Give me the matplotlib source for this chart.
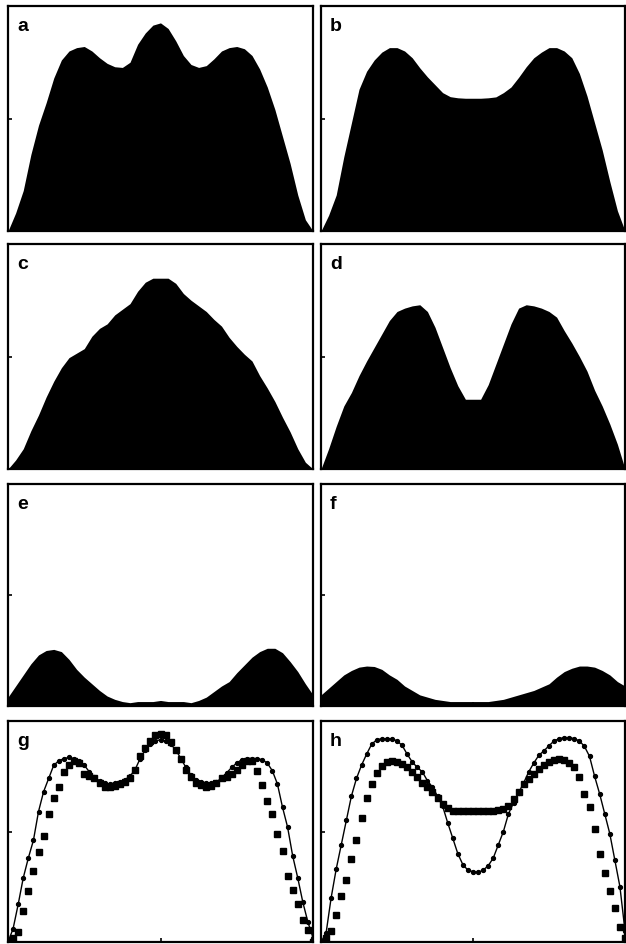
import numpy as np
import matplotlib
matplotlib.use("Agg")
import matplotlib.pyplot as plt

OUT_PATH = "out.png"

# sample positions across each panel (fraction of panel width)
X41 = np.linspace(0, 1, 41)
X61 = np.linspace(0, 1, 61)

# filled profiles (fraction of panel height)
PROFILE_A = [0.00, 0.08, 0.18, 0.34, 0.47, 0.57, 0.68, 0.76, 0.80, 0.815,
             0.82, 0.80, 0.77, 0.745, 0.73, 0.727, 0.75, 0.83, 0.88, 0.915,
             0.925, 0.90, 0.845, 0.78, 0.74, 0.727, 0.735, 0.765, 0.80, 0.815,
             0.82, 0.81, 0.78, 0.72, 0.64, 0.54, 0.42, 0.30, 0.16, 0.05, 0.00]
PROFILE_B = [0.00, 0.07, 0.16, 0.33, 0.48, 0.63, 0.71, 0.76, 0.795, 0.815,
             0.815, 0.80, 0.77, 0.725, 0.685, 0.65, 0.615, 0.597, 0.592, 0.59,
             0.59, 0.59, 0.592, 0.596, 0.615, 0.64, 0.683, 0.73, 0.77, 0.795,
             0.815, 0.815, 0.80, 0.77, 0.70, 0.60, 0.48, 0.36, 0.22, 0.09, 0.00]
PROFILE_C = [0.00, 0.04, 0.09, 0.17, 0.24, 0.32, 0.39, 0.45, 0.495, 0.515,
             0.535, 0.59, 0.625, 0.645, 0.685, 0.71, 0.735, 0.79, 0.83, 0.848,
             0.848, 0.848, 0.825, 0.78, 0.75, 0.725, 0.70, 0.665, 0.635, 0.585,
             0.545, 0.51, 0.48, 0.415, 0.36, 0.30, 0.23, 0.165, 0.09, 0.03, 0.00]
PROFILE_D = [0.00, 0.09, 0.19, 0.28, 0.34, 0.415, 0.48, 0.54, 0.60, 0.66,
             0.70, 0.715, 0.725, 0.73, 0.70, 0.63, 0.54, 0.45, 0.37, 0.31,
             0.31, 0.31, 0.375, 0.465, 0.555, 0.645, 0.715, 0.73, 0.725, 0.715,
             0.70, 0.675, 0.615, 0.56, 0.50, 0.435, 0.35, 0.28, 0.20, 0.11, 0.00]
PROFILE_E = [0.04, 0.09, 0.14, 0.19, 0.23, 0.25, 0.255, 0.245, 0.21, 0.165,
             0.13, 0.10, 0.07, 0.045, 0.03, 0.02, 0.015, 0.02, 0.02, 0.02,
             0.025, 0.02, 0.02, 0.02, 0.015, 0.025, 0.04, 0.065, 0.09, 0.11,
             0.15, 0.185, 0.22, 0.245, 0.26, 0.26, 0.24, 0.20, 0.155, 0.10, 0.05]
PROFILE_F = [0.05, 0.08, 0.11, 0.14, 0.16, 0.175, 0.18, 0.178, 0.165, 0.14,
             0.12, 0.09, 0.07, 0.05, 0.04, 0.03, 0.025, 0.02, 0.02, 0.02,
             0.02, 0.02, 0.02, 0.025, 0.03, 0.04, 0.05, 0.06, 0.07, 0.085,
             0.10, 0.13, 0.155, 0.17, 0.18, 0.18, 0.175, 0.16, 0.14, 0.11, 0.09]

# panel g: line with dots and squares
G_LINE = [0.00, 0.06, 0.17, 0.29, 0.38, 0.46, 0.59, 0.68, 0.74, 0.80,
          0.82, 0.83, 0.835, 0.83, 0.82, 0.80, 0.77, 0.745, 0.73, 0.72,
          0.715, 0.72, 0.725, 0.735, 0.75, 0.78, 0.83, 0.87, 0.895, 0.91,
          0.915, 0.91, 0.895, 0.87, 0.83, 0.79, 0.755, 0.735, 0.725, 0.72,
          0.72, 0.725, 0.74, 0.765, 0.79, 0.81, 0.825, 0.83, 0.83, 0.83,
          0.825, 0.81, 0.775, 0.715, 0.61, 0.52, 0.39, 0.29, 0.18, 0.09, 0.02]
G_SQUARES = [0.00, 0.02, 0.045, 0.14, 0.23, 0.32, 0.405, 0.48, 0.58, 0.65,
             0.70, 0.77, 0.80, 0.82, 0.81, 0.76, 0.75, 0.74, 0.72, 0.70,
             0.70, 0.705, 0.715, 0.725, 0.74, 0.78, 0.84, 0.88, 0.91, 0.935,
             0.94, 0.935, 0.905, 0.87, 0.83, 0.78, 0.745, 0.72, 0.71, 0.70,
             0.705, 0.72, 0.74, 0.745, 0.76, 0.78, 0.80, 0.82, 0.82, 0.775,
             0.71, 0.64, 0.58, 0.49, 0.41, 0.30, 0.235, 0.17, 0.10, 0.055, 0.00]

# panel h: line with dots and squares
H_LINE = [0.00, 0.04, 0.20, 0.33, 0.44, 0.55, 0.66, 0.74, 0.80, 0.85,
          0.895, 0.915, 0.92, 0.92, 0.92, 0.91, 0.89, 0.85, 0.815, 0.79,
          0.77, 0.73, 0.70, 0.66, 0.615, 0.54, 0.47, 0.40, 0.35, 0.325,
          0.318, 0.315, 0.325, 0.345, 0.38, 0.44, 0.50, 0.58, 0.63, 0.675,
          0.72, 0.77, 0.81, 0.845, 0.865, 0.888, 0.91, 0.92, 0.925, 0.925,
          0.92, 0.91, 0.885, 0.84, 0.75, 0.67, 0.58, 0.49, 0.37, 0.25, 0.05]
H_SQUARES = [0.00, 0.02, 0.05, 0.12, 0.21, 0.28, 0.375, 0.46, 0.56, 0.65,
             0.715, 0.765, 0.795, 0.815, 0.82, 0.815, 0.805, 0.79, 0.768, 0.745,
             0.72, 0.70, 0.677, 0.65, 0.625, 0.605, 0.595, 0.594, 0.592, 0.592,
             0.592, 0.592, 0.592, 0.592, 0.594, 0.596, 0.60, 0.615, 0.645, 0.68,
             0.713, 0.738, 0.76, 0.783, 0.80, 0.813, 0.822, 0.828, 0.822, 0.81,
             0.79, 0.745, 0.67, 0.61, 0.51, 0.40, 0.31, 0.23, 0.155, 0.07, 0.02]

LABELS = ["a", "b", "c", "d", "e", "f", "g", "h"]

# panel boxes in pixels: (left, top, right, bottom)
COLS = [(8, 313), (321, 625)]
ROWS = [(7, 232), (245, 470), (485, 707), (722, 943)]
W, H = 626, 945


def make_axes(fig, row, col):
    l, r = COLS[col]
    t, b = ROWS[row]
    ax = fig.add_axes([l / W, 1 - b / H, (r - l) / W, (b - t) / H])
    ax.set_xlim(0, 1)
    ax.set_ylim(0, 1)
    ax.set_xticks([0.5])
    ax.set_yticks([0.5])
    ax.set_xticklabels([])
    ax.set_yticklabels([])
    ax.tick_params(direction="in", length=3, width=1.2, top=False, right=False)
    for sp in ax.spines.values():
        sp.set_linewidth(1.6)
    return ax


def add_label(ax, text):
    ax.text(0.03, 0.95, text, transform=ax.transAxes, ha="left", va="top",
            fontsize=14, fontweight="bold", family="Liberation Sans", zorder=5)


def main():
    fig = plt.figure(figsize=(W / 100, H / 100), dpi=100)

    filled = [PROFILE_A, PROFILE_B, PROFILE_C, PROFILE_D, PROFILE_E, PROFILE_F]
    for i, prof in enumerate(filled):
        ax = make_axes(fig, i // 2, i % 2)
        ax.fill_between(X41, 0, prof, color="black", linewidth=0)
        add_label(ax, LABELS[i])

    pairs = [(G_LINE, G_SQUARES), (H_LINE, H_SQUARES)]
    for j, (line, squares) in enumerate(pairs):
        ax = make_axes(fig, 3, j)
        ax.plot(X61, squares, linestyle="", marker="s", markersize=4.2,
                color="black")
        ax.plot(X61, line, linestyle="-", linewidth=1.0, marker="o",
                markersize=2.8, color="black")
        add_label(ax, LABELS[6 + j])

    fig.savefig(OUT_PATH, dpi=100, facecolor="white")
    plt.close(fig)


if __name__ == "__main__":
    main()
